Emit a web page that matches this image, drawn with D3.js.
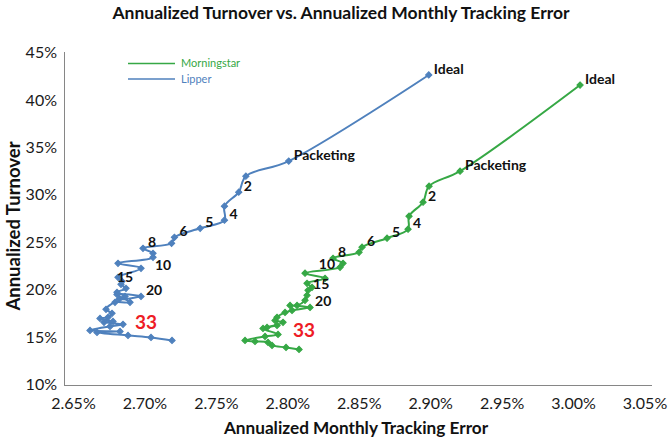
<!DOCTYPE html>
<html>
<head>
<meta charset="utf-8">
<script src="https://cdn.jsdelivr.net/npm/d3@7"></script>
<style>
  body { margin: 0; background: #fff; }
  svg { display: block; font-family: Lato, "Open Sans", sans-serif; }
</style>
</head>
<body>
<svg id="chart" width="668" height="439"></svg>
<script>
// packet counts shared by both series ("Ideal", "Packeting", then 1..n)
const packets = ["Ideal", "Packeting", 1, 2, 3, 4, 5, 6, 7, 8, 9, 10, 11, 12, 13, 14, 15, 16, 17, 18, 19, 20,
  21, 22, 23, 24, 25, 26, 27, 28, 29, 30, 31, 32, 33, 34, 35, 36, 37];
const labelled = ["Ideal", "Packeting", 2, 4, 5, 6, 8, 10, 15, 20, 33];

// tracking error (%) / turnover (%)
const lipperX = [2.899, 2.801, 2.771, 2.766, 2.756, 2.756, 2.739, 2.721, 2.719, 2.699, 2.706, 2.706,
  2.6815, 2.6976, 2.6815, 2.6843, 2.6836, 2.6871, 2.6808, 2.6864, 2.6822, 2.6976, 2.6808, 2.6899,
  2.6794, 2.6731, 2.6773, 2.6745, 2.6689, 2.678, 2.6717, 2.685, 2.6759, 2.6619, 2.6829, 2.6668,
  2.6885, 2.7046, 2.7193];
const lipperY = [42.63, 33.55, 31.96, 30.28, 28.80, 27.32, 26.47, 25.52, 24.89, 24.36, 23.83, 23.41,
  22.78, 22.25, 21.30, 20.88, 20.56, 20.14, 19.72, 19.29, 18.98, 19.29, 19.50, 18.66,
  18.66, 17.92, 17.50, 17.08, 16.97, 16.65, 16.55, 16.34, 16.12, 15.70, 15.60, 15.49,
  15.17, 14.96, 14.65];

const morningstarX = [3.0049, 2.9209, 2.8992, 2.895, 2.8852, 2.8845, 2.8698, 2.8523, 2.8502, 2.832,
  2.839, 2.8369, 2.8124, 2.8264, 2.8138, 2.8173, 2.8145, 2.8138, 2.8124, 2.8068, 2.8019, 2.8159,
  2.8033, 2.7984, 2.7928, 2.7914, 2.797, 2.7858, 2.7928, 2.783, 2.7935, 2.7844, 2.7704, 2.7774,
  2.7865, 2.7893, 2.7991, 2.8082];
const morningstarY = [41.57, 32.49, 30.91, 29.22, 27.74, 26.37, 25.42, 24.47, 23.94, 23.31,
  22.78, 22.36, 21.73, 21.19, 20.67, 20.24, 19.93, 19.40, 18.87, 18.34, 18.34, 18.13,
  17.81, 17.60, 17.08, 16.76, 16.55, 16.02, 16.23, 15.91, 15.28, 15.07, 14.65, 14.54,
  14.44, 14.12, 13.91, 13.70];

const xTicks = [2.65, 2.70, 2.75, 2.80, 2.85, 2.90, 2.95, 3.00, 3.05];
const yTicks = [10, 15, 20, 25, 30, 35, 40, 45];

const BLUE = "#4F81BD";
const GREEN = "#36A845";
const AXIS_GREY = "#868686";

const plotLeft = 64, plotRight = 652, plotTop = 52, plotBottom = 385;

const svg = d3.select("#chart");

const x = d3.scaleLinear().domain([2.65, 3.05]).range([73, 644.5]);
const y = d3.scaleLinear().domain([10, 45]).range([384.5, 52.5]);

// title
svg.append("text")
  .attr("x", 341)
  .attr("y", 19)
  .attr("text-anchor", "middle")
  .attr("font-size", "17.5px")
  .attr("font-weight", "bold")
  .attr("fill", "#111")
  .text("Annualized Turnover vs. Annualized Monthly Tracking Error");

// axes
const yAxis = svg.append("g")
  .attr("transform", `translate(${plotLeft},0)`)
  .call(d3.axisLeft(y).tickValues(yTicks).tickSize(0).tickPadding(7).tickFormat(d => d + "%"));

const xAxis = svg.append("g")
  .attr("transform", `translate(0,${plotBottom})`)
  .call(d3.axisBottom(x).tickValues(xTicks).tickSize(0).tickPadding(13).tickFormat(d => d.toFixed(2) + "%"));

[xAxis, yAxis].forEach(g => {
  g.select(".domain").remove();
  g.selectAll("text")
    .attr("font-family", "Lato, sans-serif")
    .attr("font-size", "16px")
    .attr("fill", "#1a1a1a");
});

svg.append("line")
  .attr("x1", plotLeft + 0.5).attr("x2", plotLeft + 0.5)
  .attr("y1", plotTop).attr("y2", plotBottom)
  .attr("stroke", AXIS_GREY);

svg.append("line")
  .attr("x1", plotLeft).attr("x2", plotRight)
  .attr("y1", plotBottom + 0.5).attr("y2", plotBottom + 0.5)
  .attr("stroke", AXIS_GREY);

// axis titles
svg.append("text")
  .attr("x", 356)
  .attr("y", 434)
  .attr("text-anchor", "middle")
  .attr("font-size", "17.2px")
  .attr("font-weight", "bold")
  .attr("fill", "#111")
  .text("Annualized Monthly Tracking Error");

svg.append("text")
  .attr("transform", "translate(20,226) rotate(-90)")
  .attr("text-anchor", "middle")
  .attr("font-size", "18.5px")
  .attr("font-weight", "bold")
  .attr("fill", "#111")
  .text("Annualized Turnover");

// series
const series = [
  { name: "Lipper", color: BLUE, xs: lipperX, ys: lipperY },
  { name: "Morningstar", color: GREEN, xs: morningstarX, ys: morningstarY }
];

// label nudges (style only)
const nudge = {
  "Lipper-10": { dx: 2, dy: 8 },
  "Lipper-15": { dx: -4, dy: -7 },
  "Lipper-33": { dx: 15, dy: -9 },
  "Morningstar-10": { dx: -5, dy: -3, anchor: "end" },
  "Morningstar-33": { dx: 25, dy: -12 }
};

const line = d3.line()
  .x(d => x(d.x))
  .y(d => y(d.y))
  .curve(d3.curveCatmullRom.alpha(0.5));

const diamond = d3.symbol(d3.symbolSquare, 20);

series.forEach(s => {
  const pts = s.xs.map((v, i) => ({ x: v, y: s.ys[i], label: packets[i] }));

  svg.append("path")
    .datum(pts)
    .attr("fill", "none")
    .attr("stroke", s.color)
    .attr("stroke-width", 2)
    .attr("d", line);

  svg.append("g")
    .selectAll("path")
    .data(pts)
    .join("path")
    .attr("d", diamond)
    .attr("transform", d => `translate(${x(d.x)},${y(d.y)}) rotate(45)`)
    .attr("fill", s.color)
    .attr("stroke", s.color)
    .attr("stroke-width", 1);

  svg.append("g")
    .selectAll("text")
    .data(pts.filter(d => labelled.includes(d.label)))
    .join("text")
    .each(function (d) {
      const n = nudge[`${s.name}-${d.label}`] || { dx: 5, dy: -6 };
      const big = d.label === 33;
      d3.select(this)
        .attr("x", x(d.x) + n.dx)
        .attr("y", y(d.y) + n.dy)
        .attr("dy", "0.35em")
        .attr("text-anchor", n.anchor || "start")
        .attr("font-size", big ? "19px" : "14px")
        .attr("font-weight", "bold")
        .attr("fill", big ? "#EE1C25" : "#111")
        .text(d.label);
    });
});

// legend
const legend = svg.append("g");
[{ name: "Morningstar", color: GREEN, ly: 63.5 }, { name: "Lipper", color: BLUE, ly: 79 }].forEach(d => {
  legend.append("line")
    .attr("x1", 128).attr("x2", 175)
    .attr("y1", d.ly).attr("y2", d.ly)
    .attr("stroke", d.color)
    .attr("stroke-width", 1.5);
  legend.append("text")
    .attr("x", 181)
    .attr("y", d.ly)
    .attr("dy", "0.35em")
    .attr("font-size", "11px")
    .attr("fill", d.color)
    .text(d.name);
});
</script>
</body>
</html>
